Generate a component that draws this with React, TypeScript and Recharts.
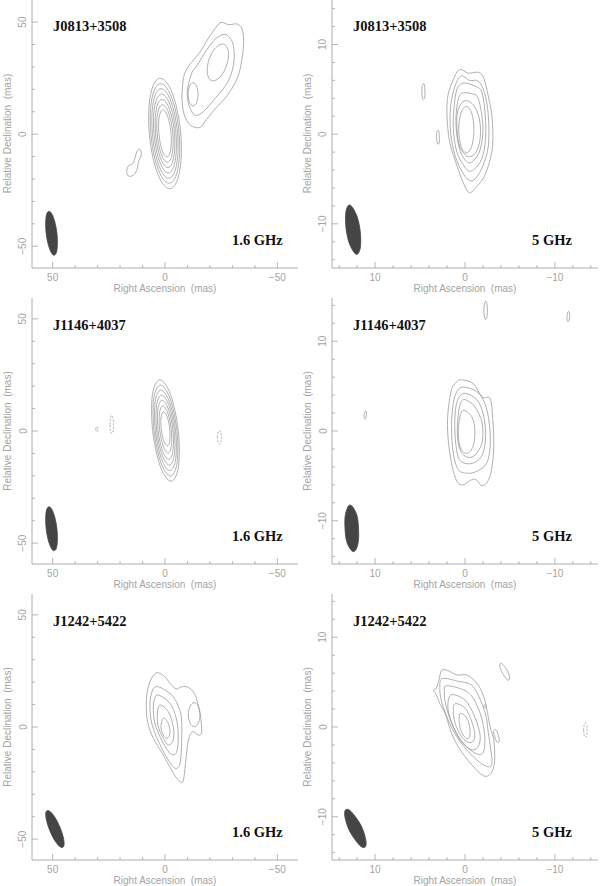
import React from 'react';
import { ScatterChart, Scatter, XAxis, YAxis } from 'recharts';

type P = [number, number];

// ---------- J0813+3508, 1.6 GHz ----------
const j0813L_core1: P[] = [[7.0, 0.3], [7.1, 12.6], [5.3, 21.6], [2.1, 24.9], [-1.7, 21.6], [-5.0, 12.6], [-7.0, 0.3], [-7.1, -12.0], [-5.3, -21.0], [-2.1, -24.3], [1.7, -21.0], [5.0, -12.0]];
const j0813L_core2: P[] = [[6.3, 0.3], [6.43, 11.4], [4.81, 19.5], [1.91, 22.5], [-1.49, 19.5], [-4.49, 11.4], [-6.3, 0.3], [-6.38, -10.8], [-4.76, -18.9], [-1.86, -21.9], [1.54, -18.9], [4.54, -10.8]];
const j0813L_core3: P[] = [[5.6, 0.3], [5.73, 10.3], [4.3, 17.6], [1.73, 20.3], [-1.3, 17.6], [-3.97, 10.3], [-5.6, 0.3], [-5.67, -9.7], [-4.25, -17.0], [-1.67, -19.7], [1.35, -17.0], [4.03, -9.7]];
const j0813L_core4: P[] = [[4.9, 0.3], [5.01, 9.1], [3.77, 15.5], [1.52, 17.9], [-1.13, 15.5], [-3.47, 9.1], [-4.9, 0.3], [-4.96, -8.5], [-3.72, -14.9], [-1.47, -17.3], [1.18, -14.9], [3.52, -8.5]];
const j0813L_core5: P[] = [[4.2, 0.3], [4.31, 7.9], [3.25, 13.5], [1.32, 15.5], [-0.95, 13.5], [-2.97, 7.9], [-4.2, 0.3], [-4.26, -7.3], [-3.2, -12.9], [-1.27, -14.9], [1.0, -12.9], [3.02, -7.3]];
const j0813L_core6: P[] = [[3.5, 0.3], [3.6, 6.7], [2.72, 11.4], [1.11, 13.1], [-0.78, 11.4], [-2.46, 6.7], [-3.5, 0.3], [-3.55, -6.1], [-2.67, -10.8], [-1.06, -12.5], [0.83, -10.8], [2.51, -6.1]];
const j0813L_core7: P[] = [[2.7, 0.3], [2.81, 5.55], [2.15, 9.4], [0.92, 10.8], [-0.55, 9.4], [-1.87, 5.55], [-2.7, 0.3], [-2.76, -4.95], [-2.1, -8.8], [-0.87, -10.2], [0.6, -8.8], [1.92, -4.95]];
const j0813L_jet1: P[] = [[-7.7, 20], [-8.7, 27], [-11.8, 32], [-15.5, 36.5], [-18.5, 41.5], [-21.5, 46], [-24.8, 49.8], [-28.5, 48.8], [-32, 49.2], [-34.3, 47], [-35, 41], [-34, 32], [-32, 24.5], [-27.5, 17], [-22.5, 11.5], [-18.4, 6.5], [-15.5, 3.0], [-11.5, 3.9], [-8.6, 8.5], [-7.6, 15]];
const j0813L_jet2: P[] = [[-10.2, 21], [-12, 27.5], [-14.5, 31], [-18.5, 37.5], [-22.5, 42.5], [-26.8, 44.5], [-30, 41], [-30.8, 34], [-29.5, 27], [-26.8, 21.5], [-21.5, 15], [-17, 10], [-13.4, 8.4], [-11, 12], [-10, 16.5]];
const j0813L_knot: P[] = [[-10.3, 17.8], [-10.9, 21.4], [-12.5, 23.0], [-14.1, 21.4], [-14.7, 17.8], [-14.1, 14.2], [-12.5, 12.6], [-10.9, 14.2]];
const j0813L_jetPeak: P[] = [[-19.2, 32], [-20.8, 36.1], [-23.1, 39.1], [-25.6, 40.2], [-27.4, 39.1], [-28.3, 36.1], [-27.8, 32], [-26.2, 27.9], [-23.9, 24.9], [-21.5, 23.8], [-19.6, 24.9], [-18.8, 27.9]];
const j0813L_hook: P[] = [[11.1, -6.7], [10.6, -9.4], [11.9, -12.5], [12.4, -15.7], [14.2, -18.4], [16.4, -18.6], [17.0, -16.6], [16.4, -14.3], [14.2, -13.0], [13.3, -10.3], [12.4, -7.6]];
const j0813L_beam: P[] = [[52.9, -44.2], [53.1, -39.3], [52.7, -35.7], [51.6, -34.4], [50.3, -35.7], [49.0, -39.3], [48.1, -44.2], [47.9, -49.1], [48.3, -52.7], [49.4, -54.0], [50.7, -52.7], [52.0, -49.1]];

// ---------- J0813+3508, 5 GHz ----------
const j0813C_c1: P[] = [[0.6, 7.2], [-0.4, 6.8], [-1.5, 6.9], [-2.1, 6.2], [-2.6, 4.2], [-3.0, 2.0], [-3.1, -0.9], [-2.8, -2.8], [-2.2, -4.6], [-1.6, -5.5], [-0.9, -6.3], [-0.4, -6.5], [0.2, -5.4], [0.9, -3.5], [1.7, -0.9], [2.0, 2.0], [1.9, 4.3], [1.3, 6.1]];
const j0813C_c2: P[] = [[0.4, 6.5], [-0.5, 6.0], [-1.5, 5.9], [-2.2, 4.5], [-2.6, 2.0], [-2.6, -1.3], [-2.0, -3.5], [-1.3, -4.8], [-0.6, -5.2], [0.2, -4.4], [1.1, -2.4], [1.6, 0.2], [1.6, 3.1], [1.1, 5.4]];
const j0813C_c3: P[] = [[0.2, 5.7], [-1.0, 5.4], [-1.9, 4.6], [-2.3, 1.3], [-2.2, -1.3], [-1.7, -3.1], [-0.7, -4.1], [0.0, -3.7], [0.9, -2.0], [1.3, 0.6], [1.2, 3.1], [0.9, 5.0]];
const j0813C_c4: P[] = [[0.2, 4.6], [-0.8, 4.5], [-1.5, 3.9], [-2.0, 0.9], [-1.7, -1.7], [-0.9, -3.0], [-0.2, -3.1], [0.6, -1.7], [1.0, 0.9], [0.9, 3.1], [0.6, 4.3]];
const j0813C_c5: P[] = [[0.1, 3.7], [-0.9, 3.3], [-1.6, 1.7], [-1.7, -0.3], [-1.3, -1.9], [-0.6, -2.5], [0.1, -2.2], [0.7, -1.0], [0.9, 0.8], [0.8, 2.6]];
const j0813C_c6: P[] = [[0.7, 0.5], [0.45, 2.35], [-0.15, 3.1], [-0.75, 2.35], [-1.0, 0.5], [-0.75, -1.35], [-0.15, -2.1], [0.45, -1.35]];
const j0813C_iso1: P[] = [[4.45, 4.7], [4.55, 5.6], [4.75, 5.4], [4.8, 4.6], [4.7, 3.9], [4.5, 4.0]];
const j0813C_iso2: P[] = [[2.85, -0.35], [2.95, 0.4], [3.15, 0.2], [3.17, -0.4], [3.05, -1.1], [2.85, -0.9]];
const j0813C_beam: P[] = [[12.9, -7.9], [13.2, -8.4], [13.3, -9.4], [13.2, -10.8], [12.9, -12.1], [12.4, -13.1], [12.0, -13.4], [11.7, -12.9], [11.6, -11.9], [11.7, -10.5], [12.0, -9.2], [12.5, -8.2]];

// ---------- J1146+4037, 1.6 GHz ----------
const j1146L_c1: P[] = [[5.5, 0.2], [5.6, 16.2], [2.3, 22.8], [-2.5, 16.2], [-5.9, 0.2], [-6.0, -15.8], [-2.7, -22.4], [2.1, -15.8]];
const j1146L_c2: P[] = [[4.9, 0.2], [5.0, 14.55], [2.0, 20.5], [-2.23, 14.55], [-5.3, 0.2], [-5.39, -14.15], [-2.43, -20.1], [1.83, -14.15]];
const j1146L_c3: P[] = [[4.3, 0.3], [4.38, 13.0], [1.78, 18.3], [-1.98, 13.0], [-4.7, 0.3], [-4.78, -12.4], [-2.18, -17.7], [1.58, -12.4]];
const j1146L_c4: P[] = [[3.7, 0.4], [3.77, 11.4], [1.52, 16.0], [-1.75, 11.4], [-4.1, 0.4], [-4.17, -10.6], [-1.92, -15.2], [1.35, -10.6]];
const j1146L_c5: P[] = [[3.1, 0.5], [3.16, 9.8], [1.25, 13.7], [-1.5, 9.8], [-3.5, 0.5], [-3.56, -8.8], [-1.65, -12.7], [1.1, -8.8]];
const j1146L_c6: P[] = [[2.4, 0.7], [2.46, 8.1], [0.96, 11.2], [-1.22, 8.1], [-2.8, 0.7], [-2.86, -6.7], [-1.36, -9.8], [0.82, -6.7]];
const j1146L_c7: P[] = [[1.7, 1.0], [1.73, 6.4], [0.64, 8.6], [-0.95, 6.4], [-2.1, 1.0], [-2.13, -4.4], [-1.04, -6.6], [0.55, -4.4]];
const j1146L_neg1: P[] = [[24.5, 2.9], [24.3, 5.7], [23.7, 6.9], [23.1, 5.7], [22.9, 2.9], [23.1, 0.1], [23.7, -1.1], [24.3, 0.1]];
const j1146L_neg2: P[] = [[30.8, 0.8], [30.65, 1.65], [30.3, 2.0], [29.95, 1.65], [29.8, 0.8], [29.95, -0.05], [30.3, -0.4], [30.65, -0.05]];
const j1146L_neg3: P[] = [[-23.3, -2.9], [-23.55, -0.8], [-24.2, 0.1], [-24.85, -0.8], [-25.1, -2.9], [-24.85, -5.0], [-24.2, -5.9], [-23.55, -5.0]];
const j1146L_beam: P[] = [[52.9, -43.6], [53.1, -38.7], [52.7, -35.1], [51.6, -33.8], [50.3, -35.1], [49.0, -38.7], [48.1, -43.6], [47.9, -48.5], [48.3, -52.1], [49.4, -53.4], [50.7, -52.1], [52.0, -48.5]];

// ---------- J1146+4037, 5 GHz ----------
const j1146C_c1: P[] = [[0.4, 5.7], [-0.9, 5.3], [-1.9, 3.8], [-2.8, 3.6], [-3.1, 1.2], [-3.2, -1.7], [-3.0, -4.0], [-2.6, -5.5], [-1.9, -6.1], [-1.2, -5.4], [-0.6, -5.5], [0.2, -6.0], [0.9, -5.6], [1.5, -3.6], [1.9, -0.6], [1.9, 2.0], [1.5, 4.6], [0.9, 5.5]];
const j1146C_c2: P[] = [[0.2, 4.9], [-1.3, 4.4], [-2.2, 3.1], [-2.7, 0.9], [-2.8, -1.7], [-2.4, -3.6], [-1.3, -4.5], [-0.2, -4.7], [0.75, -4.3], [1.3, -2.5], [1.5, 0.5], [1.3, 3.1], [0.9, 4.4]];
const j1146C_c3: P[] = [[0.0, 4.2], [-1.3, 3.5], [-2.0, 2.0], [-2.3, -0.3], [-2.0, -2.5], [-1.1, -3.5], [0.0, -3.6], [0.75, -2.9], [1.1, -0.6], [1.1, 2.0], [0.75, 3.6]];
const j1146C_c4: P[] = [[0.0, 3.5], [-1.1, 2.7], [-1.9, 0.9], [-1.9, -1.3], [-1.1, -2.7], [-0.2, -2.9], [0.55, -2.1], [0.85, -0.3], [0.75, 1.8], [0.5, 3.1]];
const j1146C_c5: P[] = [[0.2, 2.3], [-0.75, 1.6], [-1.1, 0.1], [-0.9, -1.7], [-0.2, -2.5], [0.5, -1.9], [0.75, -0.3], [0.6, 1.4]];
const j1146C_iso1: P[] = [[-2.1, 13.45], [-2.2, 14.3], [-2.4, 14.35], [-2.5, 13.45], [-2.4, 12.55], [-2.2, 12.55]];
const j1146C_iso2: P[] = [[-11.35, 12.75], [-11.45, 13.25], [-11.6, 13.25], [-11.65, 12.75], [-11.55, 12.25], [-11.4, 12.25]];
const j1146C_iso3: P[] = [[11.22, 1.8], [11.12, 2.22], [10.98, 2.15], [10.98, 1.8], [11.05, 1.38], [11.2, 1.42]];
const j1146C_beam: P[] = [[12.8, -8.25], [13.1, -8.6], [13.35, -9.6], [13.35, -10.9], [13.2, -12.2], [12.8, -13.1], [12.4, -13.45], [12.05, -13.05], [11.85, -12.1], [11.85, -10.8], [12.0, -9.5], [12.4, -8.6]];

// ---------- J1242+5422, 1.6 GHz ----------
const j1242L_c1: P[] = [[3.0, 24.2], [0, 22.4], [-2.2, 19.5], [-4.9, 17.0], [-7.4, 17.9], [-10.4, 17.7], [-13.4, 14.3], [-15.6, 6.1], [-16.3, -2.1], [-14.8, -3.6], [-12.3, -2.1], [-10.4, -5.8], [-9.3, -14.7], [-8.2, -23.6], [-6.7, -24.4], [-3.7, -20.6], [0.75, -12.5], [5.2, -5.0], [7.9, 3.1], [8.2, 13.5], [6.7, 20.2], [4.5, 23.6]];
const j1242L_lobe: P[] = [[-10.4, 5.5], [-11.2, 9.3], [-13, 10.9], [-14.8, 9.3], [-15.6, 5.5], [-14.8, 1.7], [-13, 0.1], [-11.2, 1.7]];
const j1242L_c2: P[] = [[3.7, 18.0], [0.5, 16.8], [-3.7, 13.5], [-6.4, 8.0], [-7.4, 3.1], [-7.4, -5.8], [-6.7, -16.2], [-4.5, -18.4], [-1.5, -14.7], [2.5, -7.3], [5.9, 1.6], [6.7, 10.6], [5.5, 16.5]];
const j1242L_c3: P[] = [[3.0, 14.3], [-2.2, 10.6], [-5.2, 3.1], [-5.9, -5.8], [-4.9, -11.7], [-2.2, -11.7], [1.5, -5.8], [4.5, 1.6], [5.2, 9.1], [4.5, 12.8]];
const j1242L_c4: P[] = [[2.2, 9.8], [-1.5, 6.8], [-3.7, 0.1], [-3.7, -5.8], [-1.5, -8.0], [0.75, -5.0], [3.0, 0.1], [3.4, 6.1]];
const j1242L_c5: P[] = [[0.75, 3.9], [-1.5, 1.6], [-2.2, -2.8], [-1.0, -5.0], [0.75, -3.6], [1.8, 0.1]];
const j1242L_beam: P[] = [[52.5, -37.3], [53.1, -38.9], [52.6, -42.2], [51.2, -46.4], [49.2, -50.4], [47.1, -53.1], [45.5, -53.7], [44.9, -52.1], [45.35, -48.8], [46.8, -44.6], [48.8, -40.6], [50.9, -37.9]];

// ---------- J1242+5422, 5 GHz ----------
const j1242C_c1: P[] = [[2.6, 6.3], [1.9, 6.3], [0.9, 5.8], [-0.2, 5.8], [-1.3, 4.9], [-2.0, 3.6], [-2.4, 2.1], [-2.8, 0.0], [-3.2, -1.4], [-3.3, -3.7], [-3.0, -5.0], [-2.4, -5.5], [-1.7, -5.2], [-0.75, -4.2], [0.0, -3.3], [0.75, -2.2], [1.5, -0.7], [2.2, 1.5], [2.8, 2.6], [3.2, 3.6], [3.5, 4.1], [3.2, 4.3], [2.9, 5.2]];
const j1242C_c2: P[] = [[2.5, 5.4], [0.8, 5.1], [-0.9, 4.5], [-2.2, 1.7], [-2.6, -0.7], [-3.0, -3.9], [-2.4, -4.4], [-0.9, -3.3], [0.56, -1.6], [1.7, 0.4], [2.6, 2.8], [2.8, 4.5]];
const j1242C_c3: P[] = [[2.0, 4.6], [-0.4, 3.8], [-1.7, 1.5], [-2.2, -1.1], [-2.0, -2.9], [-1.1, -2.9], [0.2, -1.8], [1.3, 0.0], [2.1, 2.3], [2.3, 3.8]];
const j1242C_c4: P[] = [[1.5, 3.6], [0.0, 3.0], [-1.1, 1.1], [-1.7, -1.1], [-1.3, -2.4], [-0.4, -2.4], [0.75, -1.1], [1.7, 1.1], [1.9, 2.6]];
const j1242C_c5: P[] = [[1.1, 2.6], [0.0, 2.1], [-0.75, 0.6], [-1.1, -1.1], [-0.56, -1.75], [0.37, -1.1], [1.1, 0.4], [1.3, 1.7]];
const j1242C_c6: P[] = [[0.56, 1.5], [-0.2, 1.0], [-0.56, -0.3], [-0.4, -1.3], [0.2, -0.9], [0.6, 0.2]];
const j1242C_iso1: P[] = [[-4.0, 7.1], [-3.9, 6.6], [-4.3, 5.8], [-4.8, 5.2], [-4.95, 5.6], [-4.6, 6.5]];
const j1242C_iso2: P[] = [[-3.3, -0.3], [-3.2, -0.7], [-3.5, -1.6], [-3.75, -1.7], [-3.8, -1.3], [-3.55, -0.45]];
const j1242C_iso3: P[] = [[-2.1, 2.35], [-2.25, 2.5], [-2.4, 2.3], [-2.25, 2.1]];
const j1242C_neg1: P[] = [[-13.2, -0.35], [-13.3, 0.35], [-13.5, 0.35], [-13.6, -0.35], [-13.5, -1.05], [-13.3, -1.05]];
const j1242C_beam: P[] = [[13.25, -9.2], [13.4, -9.65], [13.25, -10.5], [12.85, -11.6], [12.2, -12.6], [11.6, -13.3], [11.15, -13.4], [11.0, -12.95], [11.15, -12.1], [11.55, -11.0], [12.2, -10.0], [12.8, -9.3]];

const TICKS_WIDE = [-50, -40, -30, -20, -10, 0, 10, 20, 30, 40, 50];
const TICKS_NARROW = [-14, -12, -10, -8, -6, -4, -2, 0, 2, 4, 6, 8, 10, 12, 14];

const FRAME = '#a3a3a3';
const LINE = '#959595';
const BEAM = '#454545';
const AXIS_FONT = '"Liberation Sans", Arial, sans-serif';

type Kind = 'pos' | 'neg' | 'beam';
type Contour = { pts: P[]; kind: Kind };
const pos = (pts: P[]): Contour => ({ pts, kind: 'pos' });
const neg = (pts: P[]): Contour => ({ pts, kind: 'neg' });
const beam = (pts: P[]): Contour => ({ pts, kind: 'beam' });

// closed Catmull-Rom curve so the outline passes through the read-off points
const closedSpline = (ctx: any) => {
  let pts: number[][] = [];
  return {
    areaStart() {},
    areaEnd() {},
    lineStart() {
      pts = [];
    },
    point(x: number, y: number) {
      pts.push([+x, +y]);
    },
    lineEnd() {
      const n = pts.length;
      if (!n) return;
      ctx.moveTo(pts[0][0], pts[0][1]);
      for (let i = 0; i < n; i++) {
        const p0 = pts[(i + n - 1) % n];
        const p1 = pts[i];
        const p2 = pts[(i + 1) % n];
        const p3 = pts[(i + 2) % n];
        ctx.bezierCurveTo(
          p1[0] + (p2[0] - p0[0]) / 6,
          p1[1] + (p2[1] - p0[1]) / 6,
          p2[0] - (p3[0] - p1[0]) / 6,
          p2[1] - (p3[1] - p1[1]) / 6,
          p2[0],
          p2[1],
        );
      }
      ctx.closePath();
    },
  };
};

const noDot = () => <g />;

const fmt = (v: number) => (v < 0 ? `\u2212${-v}` : `${v}`);

const makeTick = (side: 'b' | 't' | 'l' | 'r', major: number) => (p: any) => {
  const { x, y, payload } = p;
  const v = payload.value;
  const big = Math.round(v) % major === 0;
  const len = big ? 6 : 3;
  const text = { fill: FRAME, fontSize: 10, fontFamily: AXIS_FONT };
  if (side === 'b') {
    return (
      <g>
        <line x1={x} x2={x} y1={y} y2={y - len} stroke={FRAME} strokeWidth={0.8} />
        {big && (
          <text x={x} y={y + 9.5} textAnchor="middle" dominantBaseline="central" {...text}>
            {fmt(v)}
          </text>
        )}
      </g>
    );
  }
  if (side === 't') {
    return <line x1={x} x2={x} y1={y} y2={y + len} stroke={FRAME} strokeWidth={0.8} />;
  }
  if (side === 'l') {
    return (
      <g>
        <line x1={x} x2={x + len} y1={y} y2={y} stroke={FRAME} strokeWidth={0.8} />
        {big && (
          <text
            x={x - 9}
            y={y}
            transform={`rotate(-90 ${x - 9} ${y})`}
            textAnchor="middle"
            dominantBaseline="central"
            {...text}
          >
            {fmt(v)}
          </text>
        )}
      </g>
    );
  }
  return <line x1={x} x2={x - len} y1={y} y2={y} stroke={FRAME} strokeWidth={0.8} />;
};

type PanelCfg = {
  left: number;
  top: number;
  plotH: number;
  xMax: number;
  yLo: number;
  yHi: number;
  ticks: number[];
  major: number;
  name: string;
  freq: string;
  contours: Contour[];
};

const PLOT_W = 266;
const AX_W = 32;
const AX_H = 26;

const wide = { xMax: 59.2, ticks: TICKS_WIDE, major: 50 };
const narrow = { xMax: 14.8, ticks: TICKS_NARROW, major: 10 };

const PANELS: PanelCfg[] = [
  {
    ...wide, left: 0, top: -1, plotH: 269, yLo: -59.7, yHi: 60.3,
    name: 'J0813+3508', freq: '1.6 GHz',
    contours: [
      pos(j0813L_core1), pos(j0813L_core2), pos(j0813L_core3), pos(j0813L_core4),
      pos(j0813L_core5), pos(j0813L_core6), pos(j0813L_core7),
      pos(j0813L_jet1), pos(j0813L_jet2), pos(j0813L_knot), pos(j0813L_jetPeak),
      pos(j0813L_hook), beam(j0813L_beam),
    ],
  },
  {
    ...narrow, left: 300, top: -1, plotH: 269, yLo: -14.925, yHi: 15.075,
    name: 'J0813+3508', freq: '5 GHz',
    contours: [
      pos(j0813C_c1), pos(j0813C_c2), pos(j0813C_c3), pos(j0813C_c4), pos(j0813C_c5),
      pos(j0813C_c6), pos(j0813C_iso1), pos(j0813C_iso2), beam(j0813C_beam),
    ],
  },
  {
    ...wide, left: 0, top: 298, plotH: 266, yLo: -59.3, yHi: 59.3,
    name: 'J1146+4037', freq: '1.6 GHz',
    contours: [
      pos(j1146L_c1), pos(j1146L_c2), pos(j1146L_c3), pos(j1146L_c4), pos(j1146L_c5),
      pos(j1146L_c6), pos(j1146L_c7), neg(j1146L_neg1), neg(j1146L_neg2), neg(j1146L_neg3),
      beam(j1146L_beam),
    ],
  },
  {
    ...narrow, left: 300, top: 298, plotH: 266, yLo: -14.825, yHi: 14.825,
    name: 'J1146+4037', freq: '5 GHz',
    contours: [
      pos(j1146C_c1), pos(j1146C_c2), pos(j1146C_c3), pos(j1146C_c4), pos(j1146C_c5),
      pos(j1146C_iso1), pos(j1146C_iso2), pos(j1146C_iso3), beam(j1146C_beam),
    ],
  },
  {
    ...wide, left: 0, top: 594, plotH: 266, yLo: -59.3, yHi: 59.3,
    name: 'J1242+5422', freq: '1.6 GHz',
    contours: [
      pos(j1242L_c1), pos(j1242L_lobe), pos(j1242L_c2), pos(j1242L_c3), pos(j1242L_c4),
      pos(j1242L_c5), beam(j1242L_beam),
    ],
  },
  {
    ...narrow, left: 300, top: 594, plotH: 266, yLo: -14.825, yHi: 14.825,
    name: 'J1242+5422', freq: '5 GHz',
    contours: [
      pos(j1242C_c1), pos(j1242C_c2), pos(j1242C_c3), pos(j1242C_c4), pos(j1242C_c5),
      pos(j1242C_c6), pos(j1242C_iso1), pos(j1242C_iso2), pos(j1242C_iso3),
      neg(j1242C_neg1), beam(j1242C_beam),
    ],
  },
];

const lineStyle = (kind: Kind) => {
  if (kind === 'beam') return { stroke: BEAM, strokeWidth: 0.8, fill: BEAM };
  if (kind === 'neg') return { stroke: LINE, strokeWidth: 0.75, strokeDasharray: '2 1.5', fill: 'none' };
  return { stroke: LINE, strokeWidth: 0.75, fill: 'none' };
};

const serifBold: React.CSSProperties = {
  position: 'absolute',
  fontFamily: '"Liberation Serif", "Times New Roman", serif',
  fontWeight: 700,
  fontSize: 14.5,
  lineHeight: '14px',
  color: '#111',
  whiteSpace: 'nowrap',
};

function Panel({ cfg }: { cfg: PanelCfg }) {
  const { left, top, plotH, xMax, yLo, yHi, ticks, major, name, freq, contours } = cfg;
  const w = AX_W + PLOT_W;
  const h = plotH + AX_H;
  const frameLine = { stroke: FRAME, strokeWidth: 0.9 };
  return (
    <div style={{ position: 'absolute', left, top, width: w, height: h }}>
      <ScatterChart width={w} height={h} margin={{ top: 0, right: 0, bottom: 0, left: 0 }}>
        <XAxis
          xAxisId="b"
          type="number"
          dataKey="x"
          domain={[-xMax, xMax]}
          reversed
          allowDataOverflow
          ticks={ticks}
          interval={0}
          height={AX_H}
          axisLine={frameLine}
          tickLine={false}
          tickSize={0}
          tickMargin={0}
          tick={makeTick('b', major)}
          label={{
            value: 'Right Ascension \u00a0(mas)',
            position: 'insideBottom',
            offset: 2,
            fill: FRAME,
            fontSize: 10,
            fontFamily: AXIS_FONT,
          }}
        />
        <XAxis
          xAxisId="t"
          orientation="top"
          type="number"
          dataKey="x"
          domain={[-xMax, xMax]}
          reversed
          allowDataOverflow
          ticks={ticks}
          interval={0}
          height={0}
          axisLine={frameLine}
          tickLine={false}
          tickSize={0}
          tickMargin={0}
          tick={makeTick('t', major)}
        />
        <YAxis
          yAxisId="l"
          type="number"
          dataKey="y"
          domain={[yLo, yHi]}
          allowDataOverflow
          ticks={ticks}
          interval={0}
          width={AX_W}
          axisLine={frameLine}
          tickLine={false}
          tickSize={0}
          tickMargin={0}
          tick={makeTick('l', major)}
          label={{
            value: 'Relative Declination \u00a0(mas)',
            angle: -90,
            position: 'insideLeft',
            offset: 7,
            fill: FRAME,
            fontSize: 10,
            fontFamily: AXIS_FONT,
            style: { textAnchor: 'middle' },
          }}
        />
        <YAxis
          yAxisId="r"
          orientation="right"
          type="number"
          dataKey="y"
          domain={[yLo, yHi]}
          allowDataOverflow
          ticks={ticks}
          interval={0}
          width={0}
          axisLine={frameLine}
          tickLine={false}
          tickSize={0}
          tickMargin={0}
          tick={makeTick('r', major)}
        />
        {contours.map((c, i) => (
          <Scatter
            key={i}
            xAxisId="b"
            yAxisId="l"
            data={c.pts.map(([x, y]) => ({ x, y }))}
            line={lineStyle(c.kind)}
            lineType="joint"
            lineJointType={closedSpline as any}
            shape={noDot}
            isAnimationActive={false}
          />
        ))}
      </ScatterChart>
      <div style={{ ...serifBold, left: AX_W + 21, top: 20 }}>{name}</div>
      <div style={{ ...serifBold, left: AX_W + 200, top: plotH - 35 }}>{freq}</div>
    </div>
  );
}

export default function App() {
  return (
    <div
      style={{
        position: 'absolute',
        left: 0,
        top: 0,
        width: 600,
        height: 886,
        background: '#fff',
        overflow: 'hidden',
      }}
    >
      {PANELS.map((cfg, i) => (
        <Panel key={i} cfg={cfg} />
      ))}
    </div>
  );
}
